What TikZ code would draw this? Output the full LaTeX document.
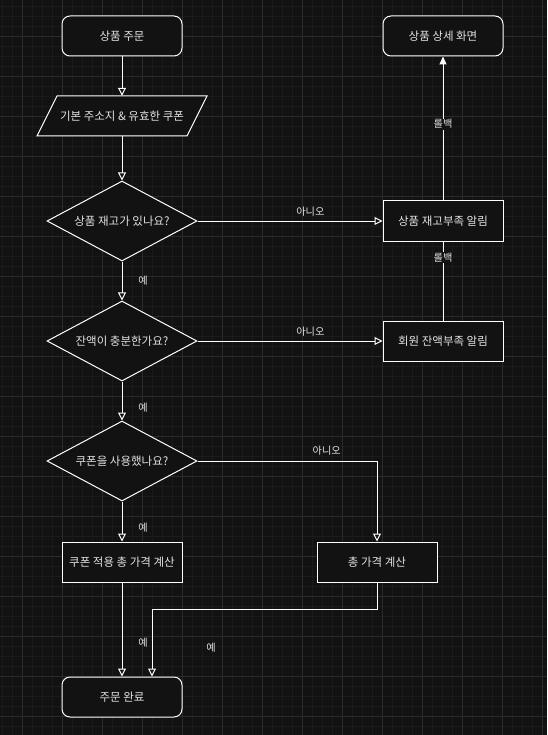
\documentclass[tikz,border=0pt]{standalone}
\usepackage{fontspec}
\setmainfont{Noto Sans CJK KR}
\usetikzlibrary{arrows.meta,shapes.geometric}
\definecolor{bg}{HTML}{121212}
\definecolor{gmin}{HTML}{1B1B1B}
\definecolor{gmaj}{HTML}{2B2B2B}
\definecolor{txt}{HTML}{E2E2E2}
\tikzset{
  box/.style={draw=white, fill=bg, line width=1pt, text=txt, minimum width=120pt, minimum height=40pt, inner sep=0pt, font=\fontsize{11.5}{13}\selectfont},
  rbox/.style={box, rounded corners=8pt},
  dec/.style={diamond, draw=white, fill=bg, line width=1pt, text=txt, minimum width=150pt, minimum height=80pt, aspect=1.875, inner sep=0pt, font=\fontsize{11.5}{13}\selectfont},
  arr/.style={draw=white, line width=1pt, -{Triangle[open,length=8pt,width=8pt]}},
  farr/.style={draw=white, line width=1pt, -{Triangle[length=8pt,width=7pt]}},
  plain/.style={draw=white, line width=1pt},
  lab/.style={text=txt, font=\fontsize{10.2}{12}\selectfont, inner sep=1pt},
  flab/.style={lab, fill=bg},
}
\begin{document}
\begin{tikzpicture}[x=1pt,y=-1pt]
\fill[bg] (0,0) rectangle (547,735);
\useasboundingbox (0,0) rectangle (547,735);
\foreach \x in {2,12,...,542} \draw[gmin, line width=0.8pt] (\x,0) -- (\x,735);
\foreach \y in {6,16,...,726} \draw[gmin, line width=0.8pt] (0,\y) -- (547,\y);
\foreach \x in {22,62,...,542} \draw[gmaj, line width=0.8pt] (\x,0) -- (\x,735);
\foreach \y in {36,76,...,716} \draw[gmaj, line width=0.8pt] (0,\y) -- (547,\y);

% nodes
\node[rbox] (start) at (122,36) {상품 주문};
\node[rbox] (detail) at (443,36) {상품 상세 화면};
\filldraw[draw=white, fill=bg, line width=1pt] (57,96) -- (207,96) -- (187,136) -- (37,136) -- cycle;
\node[text=txt, minimum width=150pt, minimum height=40pt, inner sep=0pt, font=\fontsize{11.5}{13}\selectfont] (in) at (122,116) {기본 주소지 \& 유효한 쿠폰};
\node[dec] (d1) at (122,221) {상품 재고가 있나요?};
\node[box] (stock) at (443,221) {상품 재고부족 알림};
\node[dec] (d2) at (122,341) {잔액이 충분한가요?};
\node[box] (bal) at (443,341) {회원 잔액부족 알림};
\node[dec] (d3) at (122,461) {쿠폰을 사용했나요?};
\node[box] (cpn) at (122,562) {쿠폰 적용 총 가격 계산};
\node[box] (tot) at (377,562) {총 가격 계산};
\node[rbox] (done) at (122,697) {주문 완료};

% connectors
\draw[arr] (start) -- (in);
\draw[arr] (in) -- (d1);
\draw[arr] (d1) -- node[lab, pos=0.61, yshift=9pt] {아니오} (stock);
\draw[arr] (d1) -- node[lab, pos=0.5, xshift=21pt] {예} (d2);
\draw[arr] (d2) -- node[lab, pos=0.61, yshift=9pt] {아니오} (bal);
\draw[arr] (d2) -- node[lab, pos=0.68, xshift=21pt] {예} (d3);
\draw[arr] (d3) -| node[lab, pos=0.36, yshift=10pt] {아니오} (tot);
\draw[arr] (d3) -- node[lab, pos=0.66, xshift=21pt] {예} (cpn);
\draw[arr] (cpn) -- node[lab, pos=0.64, xshift=21pt] {예} (done);
\draw[arr] (tot) -- ++(0,47) -| ([xshift=30pt]done.north);
\node[lab] (yes5) at (211,648) {예};
\draw[plain] (bal) -- node[flab, pos=0.8] {롤백} (stock);
\draw[farr] (stock) -- node[flab, pos=0.53] {롤백} (detail);
\end{tikzpicture}
\end{document}
